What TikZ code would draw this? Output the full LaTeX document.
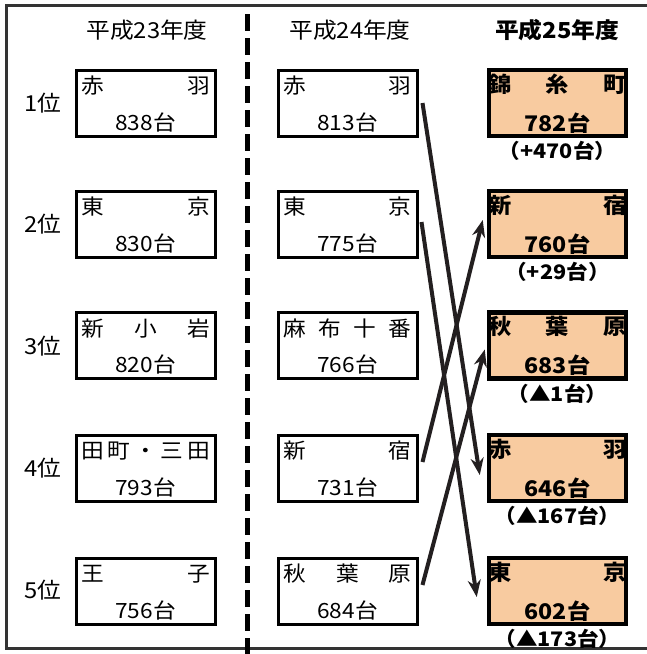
\documentclass[tikz,border=0pt]{standalone}
\usepackage{fontspec}
\setmainfont{Noto Sans CJK JP}[FakeStretch=1.08]
\usetikzlibrary{calc,arrows.meta}
\definecolor{boxfill}{RGB}{248,203,160}
\definecolor{ink}{RGB}{35,31,32}
\tikzset{
  plainbox/.style={draw=black, line width=3pt, minimum width=139pt, minimum height=66pt, inner sep=0pt},
  hotbox/.style={draw=black, fill=boxfill, line width=4.5pt, minimum width=137pt, minimum height=66pt, inner sep=0pt},
  txt/.style={inner sep=0pt, font=\fontsize{21}{24}\selectfont},
  htxt/.style={inner sep=0pt, font=\fontsize{22}{24}\selectfont},
  bhtxt/.style={inner sep=0pt, font=\fontsize{22}{24}\selectfont\bfseries},
  btxt/.style={inner sep=0pt, font=\fontsize{21.5}{24}\selectfont\bfseries},
  dtxt/.style={inner sep=0pt, font=\fontsize{20}{22}\selectfont\bfseries},
  link/.style={draw=ink, line width=4pt, -{Stealth[length=17pt,width=13pt]}},
}
\begin{document}
\begin{tikzpicture}[x=1pt,y=-1pt]
\useasboundingbox (0,0) rectangle (646,654);
% frame
\draw[line width=3pt, color=black!80] (648,5) -- (6,5) -- (6,648) -- (648,648);
\draw[line width=5pt, dash pattern=on 17pt off 7pt] (247,14) -- (247,654);
% headers
\node[htxt] (h1) at (147,30) {平成23年度};
\node[htxt] (h2) at (350,30) {平成24年度};
\node[bhtxt] (h3) at (557,30) {平成25年度};
% ranks
\node[htxt] (r1) at (43,103) {1位};
\node[htxt] (r2) at (43,224) {2位};
\node[htxt] (r3) at (43,346) {3位};
\node[htxt] (r4) at (43,468) {4位};
\node[htxt] (r5) at (43,590) {5位};
% column 1
\foreach \n/\y/\top/\num in {a1/103/赤\hfill 羽/838台, a2/224/東\hfill 京/830台, a3/345.5/新\hfill 小\hfill 岩/820台, a4/468/田\hfill 町\hfill ・\hfill 三\hfill 田/793台, a5/591/王\hfill 子/756台}{
  \node[plainbox] (\n) at (145.5,\y) {};
  \node[txt] at ($(\n.center)+(0,-17)$) {\hbox to 129pt{\top}};
  \node[txt] at ($(\n.center)+(0,19)$) {\num};
}
% column 2
\foreach \n/\y/\top/\num in {b1/103/赤\hfill 羽/813台, b2/224/東\hfill 京/775台, b3/345.5/麻\hfill 布\hfill 十\hfill 番/766台, b4/468/新\hfill 宿/731台, b5/591/秋\hfill 葉\hfill 原/684台}{
  \node[plainbox] (\n) at (347.5,\y) {};
  \node[txt] at ($(\n.center)+(0,-17)$) {\hbox to 128pt{\top}};
  \node[txt] at ($(\n.center)+(0,19)$) {\num};
}
% column 3
\foreach \n/\y/\top/\num/\d in {c1/103/錦\hfill 糸\hfill 町/782台/（+470台）, c2/224/新\hfill 宿/760台/（+29台）, c3/345.5/秋\hfill 葉\hfill 原/683台/（▲1台）, c4/468/赤\hfill 羽/646台/（▲167台）, c5/591/東\hfill 京/602台/（▲173台）}{
  \node[hotbox] (\n) at (557.5,\y) {};
  \node[btxt] at ($(\n.center)+(0,-19)$) {\hbox to 138pt{\top}};
  \node[btxt] at ($(\n.center)+(0,20)$) {\num};
  \node[dtxt] at ($(\n.center)+(0,48)$) {\d};
}
% connectors
\draw[link] ($(b1.east)+(4,0)$) -- ($(c4.west)+(-7,7)$);
\draw[link] ($(b2.east)+(3,-2)$) -- ($(c5.west)+(-10,6)$);
\draw[link] ($(b4.east)+(4,-6)$) -- ($(c2.west)+(-4,-4)$);
\draw[link] ($(b5.east)+(4,-6)$) -- ($(c3.west)+(-2,4)$);
\end{tikzpicture}
\end{document}
